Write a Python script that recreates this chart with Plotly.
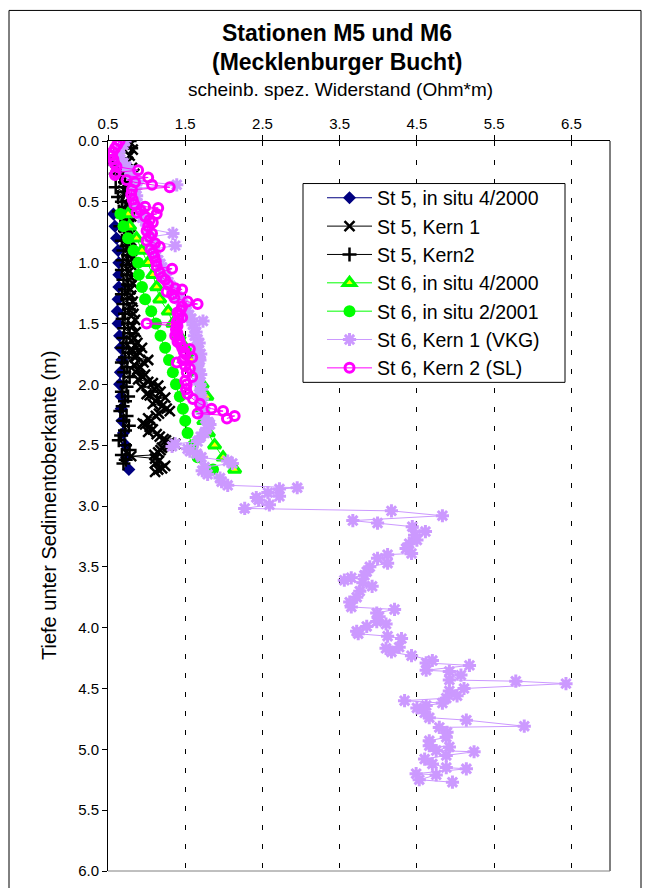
import plotly.graph_objects as go

# ---------------- data ----------------
st5_insitu_depth = [0.6, 0.7, 0.8, 0.9, 1.0, 1.1, 1.2, 1.3, 1.4, 1.5, 1.6, 1.7, 1.8, 1.9, 2.0, 2.1, 2.2, 2.3, 2.4, 2.5, 2.6, 2.7]
st5_insitu_val = [0.57, 0.59, 0.61, 0.63, 0.64, 0.64, 0.64, 0.63, 0.62, 0.63, 0.65, 0.66, 0.68, 0.66, 0.65, 0.67, 0.67, 0.68, 0.70, 0.73, 0.74, 0.77]

st5_k1_depth = [0.02, 0.07, 0.12, 0.17, 0.22, 0.27, 0.32, 0.37, 0.42, 0.47, 0.52, 0.57, 0.62, 0.67, 0.72, 0.77,
                0.82, 0.87, 0.92, 0.97, 1.02, 1.07, 1.12, 1.17, 1.22, 1.27, 1.32, 1.37, 1.42, 1.47, 1.52, 1.57,
                1.62, 1.64, 1.66, 1.68, 1.70, 1.72, 1.74, 1.76, 1.78, 1.80, 1.82, 1.84, 1.86, 1.88, 1.90, 1.92,
                1.94, 1.96, 1.98, 1.99, 2.01, 2.02, 2.04, 2.06, 2.08, 2.09, 2.11, 2.12, 2.14, 2.16, 2.18, 2.20,
                2.22, 2.24, 2.26, 2.28, 2.30, 2.32, 2.33, 2.35, 2.37, 2.39, 2.41, 2.43, 2.45, 2.46, 2.48, 2.49,
                2.51, 2.52, 2.54, 2.56, 2.58, 2.59, 2.61, 2.63, 2.65, 2.67, 2.69, 2.70, 2.72]
st5_k1_val = [0.80, 0.82, 0.78, 0.76, 0.81, 0.84, 0.79, 0.76, 0.74, 0.77, 0.75, 0.78, 0.80, 0.77, 0.76, 0.79,
              0.80, 0.77, 0.79, 0.81, 0.80, 0.78, 0.80, 0.82, 0.79, 0.80, 0.82, 0.81, 0.83, 0.85, 0.82, 0.86,
              0.84, 0.80, 0.88, 0.85, 0.94, 0.82, 0.91, 0.86, 0.85, 1.02, 0.96, 0.84, 0.92, 0.88, 0.86, 0.98,
              0.95, 0.89, 1.02, 1.08, 1.15, 0.93, 1.10, 1.18, 1.00, 1.04, 1.24, 1.14, 1.12, 1.08, 1.20, 1.26,
              1.30, 1.16, 1.12, 1.02, 1.06, 0.95, 0.98, 1.04, 1.08, 1.02, 1.13, 1.17, 1.22, 1.25, 1.30, 1.37,
              1.28, 1.20, 1.18, 1.15, 1.10, 0.80, 1.11, 1.16, 1.11, 1.24, 1.20, 1.15, 1.11]

st5_k2_depth = [0.00, 0.03, 0.06, 0.09, 0.12, 0.15, 0.18, 0.21, 0.24, 0.27, 0.30, 0.34, 0.38, 0.42, 0.46, 0.50,
                0.54, 0.58, 0.62, 0.66, 0.70, 0.74, 0.78, 0.82, 0.86, 0.90, 0.94, 0.98, 1.02, 1.06, 1.10, 1.14,
                1.18, 1.22, 1.26, 1.30, 1.34, 1.38, 1.42, 1.46, 1.50, 1.54, 1.58, 1.62, 1.66, 1.70, 1.74, 1.78,
                1.82, 1.86, 1.90, 1.94, 1.98, 2.02, 2.06, 2.10, 2.14, 2.18, 2.22, 2.26, 2.30, 2.34, 2.38, 2.42,
                2.46, 2.50, 2.54, 2.58, 2.62, 2.65]
st5_k2_val = [0.78, 0.72, 0.80, 0.66, 0.58, 0.49, 0.56, 0.62, 0.70, 0.60, 0.66, 0.72, 0.60, 0.70, 0.63, 0.68,
              0.73, 0.64, 0.70, 0.75, 0.66, 0.72, 0.77, 0.68, 0.74, 0.70, 0.76, 0.69, 0.74, 0.68, 0.75, 0.70,
              0.76, 0.72, 0.68, 0.75, 0.70, 0.77, 0.72, 0.69, 0.76, 0.71, 0.78, 0.70, 0.74, 0.69, 0.77, 0.72,
              0.68, 0.75, 0.71, 0.78, 0.70, 0.74, 0.68, 0.76, 0.72, 0.69, 0.66, 0.74, 0.70, 0.77, 0.72, 0.67,
              0.64, 0.72, 0.78, 0.68, 0.73, 0.70]

st6_insitu00_depth = [0.6, 0.7, 0.8, 0.9, 1.0, 1.1, 1.2, 1.3, 1.4, 1.5, 1.6, 1.7, 1.8, 1.9, 2.0, 2.1, 2.2, 2.3, 2.4, 2.5, 2.6, 2.7]
st6_insitu00_val = [0.76, 0.78, 0.87, 0.94, 1.02, 1.08, 1.13, 1.17, 1.28, 1.34, 1.42, 1.50, 1.58, 1.65, 1.72, 1.78, 1.72, 1.74, 1.80, 1.88, 1.99, 2.14]

st6_insitu01_depth = [0.6, 0.7, 0.8, 0.9, 1.0, 1.1, 1.2, 1.3, 1.4, 1.5, 1.6, 1.7, 1.8, 1.9, 2.0, 2.1, 2.2, 2.3, 2.4, 2.5, 2.6, 2.7]
st6_insitu01_val = [0.66, 0.70, 0.76, 0.83, 0.89, 0.90, 0.94, 0.98, 1.06, 1.12, 1.18, 1.24, 1.29, 1.34, 1.38, 1.43, 1.47, 1.50, 1.53, 1.60, 1.66, 1.86]

st6_vkg_depth = [0.00, 0.03, 0.06, 0.09, 0.12, 0.15, 0.18, 0.21, 0.24, 0.27, 0.30, 0.33, 0.36, 0.39, 0.42, 0.45,
                 0.48, 0.51, 0.54, 0.57, 0.60, 0.63, 0.66, 0.69, 0.72, 0.76, 0.79, 0.82, 0.86, 0.89, 0.92, 0.95,
                 0.98, 1.01, 1.04, 1.07, 1.10, 1.13, 1.16, 1.19, 1.22, 1.25, 1.28, 1.31, 1.34, 1.37, 1.40, 1.43,
                 1.46, 1.48, 1.51, 1.54, 1.57, 1.60, 1.63, 1.66, 1.69, 1.72, 1.75, 1.78, 1.80, 1.84, 1.88, 1.92,
                 1.96, 2.00, 2.04, 2.08, 2.12, 2.16, 2.20, 2.24, 2.28, 2.31, 2.33, 2.36, 2.40, 2.43, 2.47, 2.49,
                 2.51, 2.53, 2.55, 2.57, 2.60, 2.63, 2.65, 2.68, 2.71, 2.74, 2.77, 2.80, 2.83, 2.85, 2.86, 2.89,
                 2.92, 2.93, 2.95, 2.99, 3.02, 3.04, 3.08, 3.12, 3.14, 3.17, 3.21, 3.24, 3.28, 3.31, 3.35, 3.39,
                 3.40, 3.43, 3.47, 3.50, 3.54, 3.57, 3.59, 3.61, 3.63, 3.66, 3.70, 3.75, 3.79, 3.83, 3.85, 3.88,
                 3.91, 3.95, 3.97, 3.99, 4.03, 4.05, 4.07, 4.09, 4.16, 4.17, 4.20, 4.23, 4.27, 4.29, 4.31, 4.35,
                 4.36, 4.39, 4.43, 4.44, 4.46, 4.50, 4.52, 4.56, 4.58, 4.60, 4.62, 4.64, 4.66, 4.70, 4.74, 4.76,
                 4.81, 4.82, 4.86, 4.90, 4.93, 4.97, 4.98, 5.01, 5.02, 5.05, 5.08, 5.12, 5.15, 5.16, 5.20, 5.21,
                 5.25, 5.27]
st6_vkg_val = [0.72, 0.70, 0.66, 0.63, 0.62, 0.66, 0.70, 0.74, 0.78, 0.80, 0.84, 0.88, 1.39, 0.86, 0.84, 0.87,
               0.86, 0.88, 0.90, 0.92, 0.95, 0.94, 0.98, 1.00, 1.02, 1.34, 1.04, 1.06, 1.37, 1.08, 1.10, 1.12,
               1.15, 1.18, 1.20, 1.23, 1.22, 1.26, 1.28, 1.31, 1.34, 1.38, 1.40, 1.44, 1.47, 1.50, 1.52, 1.55,
               1.58, 1.73, 1.60, 1.62, 1.64, 1.62, 1.66, 1.68, 1.65, 1.67, 1.70, 1.68, 1.69, 1.66, 1.68, 1.70,
               1.67, 1.69, 1.71, 1.68, 1.72, 1.70, 1.74, 1.72, 1.76, 1.80, 1.82, 1.78, 1.75, 1.70, 1.66, 1.37,
               1.33, 1.53, 1.56, 1.65, 1.71, 2.05, 2.11, 1.75, 1.72, 1.79, 1.95, 1.97, 2.05, 2.95, 2.72, 2.57,
               2.72, 2.42, 2.45, 2.59, 2.27, 4.17, 4.83, 3.67, 3.99, 4.44, 4.61, 4.47, 4.50, 4.40, 4.36, 4.43,
               4.12, 3.99, 4.12, 3.89, 3.85, 3.82, 3.65, 3.56, 3.80, 3.92, 3.76, 3.72, 3.63, 3.65, 4.21, 3.98,
               4.01, 3.98, 4.10, 3.85, 3.72, 3.74, 4.12, 4.30, 4.27, 4.10, 4.17, 4.43, 4.70, 4.62, 5.18, 4.62,
               4.92, 5.07, 4.92, 5.78, 6.43, 5.11, 4.92, 5.02, 4.88, 4.34, 4.83, 4.62, 4.50, 4.60, 4.66, 5.14,
               5.89, 4.79, 4.89, 4.88, 4.66, 4.66, 4.92, 4.75, 5.24, 4.88, 4.60, 4.70, 4.88, 5.14, 4.49, 4.75,
               4.53, 4.96]

st6_sl_depth = [0.00, 0.03, 0.06, 0.09, 0.12, 0.15, 0.18, 0.21, 0.24, 0.26, 0.28, 0.30, 0.32, 0.34, 0.36, 0.38,
                0.40, 0.44, 0.48, 0.52, 0.54, 0.55, 0.57, 0.59, 0.60, 0.62, 0.65, 0.67, 0.70, 0.74, 0.76, 0.79,
                0.82, 0.84, 0.87, 0.89, 0.92, 0.95, 0.99, 1.03, 1.05, 1.08, 1.12, 1.14, 1.18, 1.21, 1.22, 1.24,
                1.26, 1.29, 1.32, 1.34, 1.36, 1.39, 1.41, 1.43, 1.45, 1.47, 1.49, 1.50, 1.52, 1.55, 1.58, 1.60,
                1.63, 1.65, 1.67, 1.70, 1.71, 1.73, 1.75, 1.78, 1.80, 1.82, 1.85, 1.87, 1.90, 1.94, 1.97, 2.00,
                2.04, 2.08, 2.12, 2.16, 2.20, 2.22, 2.24, 2.26, 2.28]
st6_sl_val = [0.65, 0.62, 0.59, 0.56, 0.55, 0.57, 0.58, 0.61, 0.89, 0.60, 0.59, 1.02, 0.74, 0.85, 1.07, 1.30,
              0.81, 0.80, 0.82, 0.84, 0.98, 1.15, 0.92, 0.87, 1.13, 0.98, 1.04, 1.08, 1.02, 1.00, 1.07, 1.04,
              1.00, 1.11, 1.17, 1.05, 1.08, 1.10, 1.12, 1.13, 1.33, 1.17, 1.20, 1.24, 1.28, 1.37, 1.46, 1.26,
              1.33, 1.36, 1.53, 1.66, 1.46, 1.44, 1.40, 1.42, 1.46, 1.41, 1.39, 1.00, 1.40, 1.38, 1.40, 1.37,
              1.42, 1.40, 1.44, 1.46, 1.56, 1.48, 1.50, 1.59, 1.47, 1.39, 1.50, 1.56, 1.52, 1.59, 1.50, 1.52,
              1.51, 1.53, 1.60, 1.69, 1.84, 1.99, 1.66, 2.14, 2.04]

x_ticks = [0.5, 1.5, 2.5, 3.5, 4.5, 5.5, 6.5]
y_ticks = [0.0, 0.5, 1.0, 1.5, 2.0, 2.5, 3.0, 3.5, 4.0, 4.5, 5.0, 5.5, 6.0]

# ---------------- layout geometry ----------------
# The page body has an 8 px margin, so figure pixel = page pixel - 8.
OFF = 8
W, H = 635, 880
L, R, T, B = 108 - OFF, 610 - OFF, 141 - OFF, 879 - OFF
FONT = "Liberation Sans, Arial, sans-serif"


def px(page_x):
    return (page_x - OFF - L) / (R - L)


def py(page_y):
    return (B - (page_y - OFF)) / (B - T)


fig = go.Figure()

fig.add_trace(go.Scatter(
    x=st5_insitu_val, y=st5_insitu_depth, name="St 5, in situ 4/2000", mode="lines+markers",
    line=dict(color="#000080", width=1),
    marker=dict(symbol="diamond", size=10, color="#000080")))
fig.add_trace(go.Scatter(
    x=st5_k1_val, y=st5_k1_depth, name="St 5, Kern 1", mode="lines+markers",
    line=dict(color="black", width=1),
    marker=dict(symbol="x-thin", size=10, color="black", line=dict(color="black", width=2.5))))
fig.add_trace(go.Scatter(
    x=st5_k2_val, y=st5_k2_depth, name="St 5, Kern2", mode="lines+markers",
    line=dict(color="black", width=1),
    marker=dict(symbol="cross-thin", size=10, color="black", line=dict(color="black", width=2.5))))
fig.add_trace(go.Scatter(
    x=st6_insitu00_val, y=st6_insitu00_depth, name="St 6, in situ 4/2000", mode="lines+markers",
    line=dict(color="#00FF00", width=1),
    marker=dict(symbol="triangle-up", size=11, color="#FFFF00", line=dict(color="#00FF00", width=3))))
fig.add_trace(go.Scatter(
    x=st6_insitu01_val, y=st6_insitu01_depth, name="St 6, in situ 2/2001", mode="lines+markers",
    line=dict(color="#00FF00", width=1),
    marker=dict(symbol="circle", size=12, color="#00FF00")))
fig.add_trace(go.Scatter(
    x=st6_vkg_val, y=st6_vkg_depth, name="St 6, Kern 1 (VKG)", mode="lines+markers",
    line=dict(color="#CC99FF", width=1),
    marker=dict(symbol="asterisk", size=11, color="#CC99FF", line=dict(color="#CC99FF", width=3))))
fig.add_trace(go.Scatter(
    x=st6_sl_val, y=st6_sl_depth, name="St 6, Kern 2 (SL)", mode="lines+markers",
    line=dict(color="#FF00FF", width=1),
    marker=dict(symbol="circle-open", size=9, color="#FF00FF", line=dict(color="#FF00FF", width=3))))

shapes = [
    dict(type="line", xref="paper", yref="paper", x0=1, x1=1, y0=0, y1=1, line=dict(color="black", width=1)),
    dict(type="line", xref="paper", yref="paper", x0=0, x1=1, y0=0, y1=0, line=dict(color="#808080", width=1)),
    # outer frame (bottom edge lies below the visible page)
    dict(type="rect", xref="paper", yref="paper", x0=px(9), x1=px(641), y0=py(910), y1=py(9),
         line=dict(color="black", width=1), fillcolor="rgba(0,0,0,0)", layer="below"),
    # legend box
    dict(type="rect", xref="paper", yref="paper", x0=px(303), x1=px(565), y0=py(385), y1=py(184),
         line=dict(color="black", width=1), fillcolor="white", layer="above"),
]

annotations = [
    dict(text="<b>Stationen M5 und M6</b>", x=px(337), y=py(32), xref="paper", yref="paper",
         showarrow=False, font=dict(family=FONT, size=23, color="black"), xanchor="center", yanchor="middle"),
    dict(text="<b>(Mecklenburger Bucht)</b>", x=px(337), y=py(61), xref="paper", yref="paper",
         showarrow=False, font=dict(family=FONT, size=23, color="black"), xanchor="center", yanchor="middle"),
    dict(text="scheinb. spez. Widerstand (Ohm*m)", x=px(340), y=py(89), xref="paper", yref="paper",
         showarrow=False, font=dict(family=FONT, size=19, color="black"), xanchor="center", yanchor="middle"),
    dict(text="Tiefe unter Sedimentoberkante (m)", x=px(49), y=py(510), xref="paper", yref="paper",
         showarrow=False, textangle=-90, font=dict(family=FONT, size=20, color="black"),
         xanchor="center", yanchor="middle"),
]

fig.update_layout(
    width=W, height=H,
    margin=dict(l=L, r=W - R, t=T, b=H - B, pad=0),
    paper_bgcolor="white", plot_bgcolor="white",
    font=dict(family=FONT, color="black"),
    showlegend=True,
    legend=dict(x=px(322), y=py(179), xanchor="left", yanchor="top",
                bgcolor="rgba(0,0,0,0)", borderwidth=0,
                font=dict(family=FONT, size=19.5, color="black"),
                tracegroupgap=0, itemwidth=45),
    shapes=shapes,
    annotations=annotations,
    xaxis=dict(range=[0.5, 7.0], side="top", tickvals=x_ticks, ticktext=[f"{v:.1f}" for v in x_ticks],
               showline=True, linecolor="black", linewidth=1, ticks="outside", ticklen=5,
               tickcolor="black", tickfont=dict(family=FONT, size=15, color="black"),
               showgrid=True, gridcolor="black", gridwidth=1, griddash="5px,14px", zeroline=False),
    yaxis=dict(range=[6.0, 0.0], tickvals=y_ticks, ticktext=[f"{v:.1f}" for v in y_ticks],
               showline=True, linecolor="black", linewidth=1, ticks="outside", ticklen=5,
               tickcolor="black", tickfont=dict(family=FONT, size=15, color="black"),
               showgrid=False, zeroline=False),
)

fig.write_html("out.html")
